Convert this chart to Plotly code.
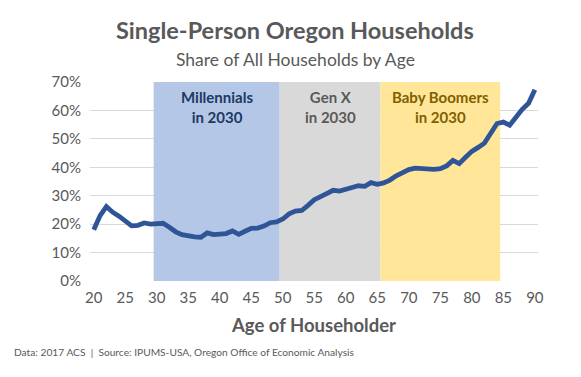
import plotly.graph_objects as go

ages = list(range(20, 91))
share = [18.0, 23.0, 26.2, 24.2, 22.8, 21.0, 19.4, 19.6, 20.4, 20.0,
         20.1, 20.3, 18.9, 17.3, 16.3, 15.8, 15.5, 15.4, 16.9, 16.3,
         16.6, 16.7, 17.6, 16.4, 17.5, 18.5, 18.6, 19.3, 20.5, 20.8,
         21.8, 23.6, 24.6, 24.8, 26.6, 28.6, 29.7, 30.6, 31.9, 31.6,
         32.4, 32.9, 33.5, 33.3, 34.6, 34.0, 34.5, 35.5, 37.0, 38.0,
         39.2, 39.7, 39.5, 39.5, 39.3, 39.5, 40.5, 42.4, 41.3, 43.5,
         45.6, 47.0, 48.5, 52.0, 55.4, 55.9, 54.8, 57.6, 60.4, 62.5,
         67.3]
share = [v / 100 for v in share]

band_names = ["Millennials<br>in 2030", "Gen X<br>in 2030", "Baby Boomers<br>in 2030"]
band_start = [29.5, 49.5, 65.5]
band_end = [49.5, 65.5, 84.5]
band_fill = ["#B4C7E7", "#D9D9D9", "#FFE699"]
band_text = ["#203864", "#595959", "#7F6000"]

x_ticks = list(range(20, 91, 5))
y_ticks = [i / 10 for i in range(0, 8)]

FONT = "Lato"
W, H = 581, 377
L, R, T, B = 90, 43, 82, 96
PW, PH = W - L - R, H - T - B


def px_to_paper(px, py):
    return (px - L) / PW, (H - B - py) / PH


fig = go.Figure()
fig.add_trace(go.Scatter(x=ages, y=share, mode="lines",
                         line=dict(color="#2F5597", width=4.8),
                         hoverinfo="skip", showlegend=False))

for name, s, e, fc, tc in zip(band_names, band_start, band_end, band_fill, band_text):
    fig.add_shape(type="rect", xref="x", yref="y", x0=s, x1=e, y0=0, y1=0.7,
                  fillcolor=fc, line=dict(width=0), layer="between")
    fig.add_annotation(x=(s + e) / 2, y=0.612, xref="x", yref="y", text=f"<b>{name}</b>",
                       showarrow=False, font=dict(family=FONT, size=15, color=tc),
                       align="center")

fig.update_layout(
    width=W, height=H,
    margin=dict(l=L, r=R, t=T, b=B),
    paper_bgcolor="white", plot_bgcolor="white",
    font=dict(family=FONT, color="#595959"),
    showlegend=False,
    xaxis=dict(range=[19.4, 90.5], tickmode="array", tickvals=x_ticks,
               ticktext=[str(t) for t in x_ticks], showgrid=False, zeroline=False,
               showline=False, tickfont=dict(size=15, color="#595959"),
               ticks="", ticklabelstandoff=6, fixedrange=True,
               title=dict(text="<b>Age of Householder</b>", standoff=14,
                          font=dict(size=18.5, color="#595959"))),
    yaxis=dict(range=[0, 0.7], tickmode="array", tickvals=y_ticks,
               tickformat=".0%", showgrid=True, gridcolor="#D9D9D9", gridwidth=1,
               zeroline=False, showline=False, ticks="", ticklabelstandoff=8,
               fixedrange=True, tickfont=dict(size=15, color="#595959")),
)

tx, ty = px_to_paper(295, 30)
fig.add_annotation(x=tx, y=ty, xref="paper", yref="paper",
                   text="<b>Single-Person Oregon Households</b>", showarrow=False,
                   font=dict(family=FONT, size=23.5, color="#595959"),
                   xanchor="center", yanchor="middle")
sx, sy = px_to_paper(295, 59)
fig.add_annotation(x=sx, y=sy, xref="paper", yref="paper",
                   text="Share of All Households by Age", showarrow=False,
                   font=dict(family=FONT, size=17.5, color="#595959"),
                   xanchor="center", yanchor="middle")
fx, fy = px_to_paper(12, 352)
fig.add_annotation(x=fx, y=fy, xref="paper", yref="paper",
                   text="Data: 2017 ACS  |  Source: IPUMS-USA, Oregon Office of Economic Analysis",
                   showarrow=False, font=dict(family=FONT, size=10.2, color="#595959"),
                   xanchor="left", yanchor="middle")

fig.write_html("out.html", config={"displayModeBar": False},
               post_script="document.body.style.margin='0';")
